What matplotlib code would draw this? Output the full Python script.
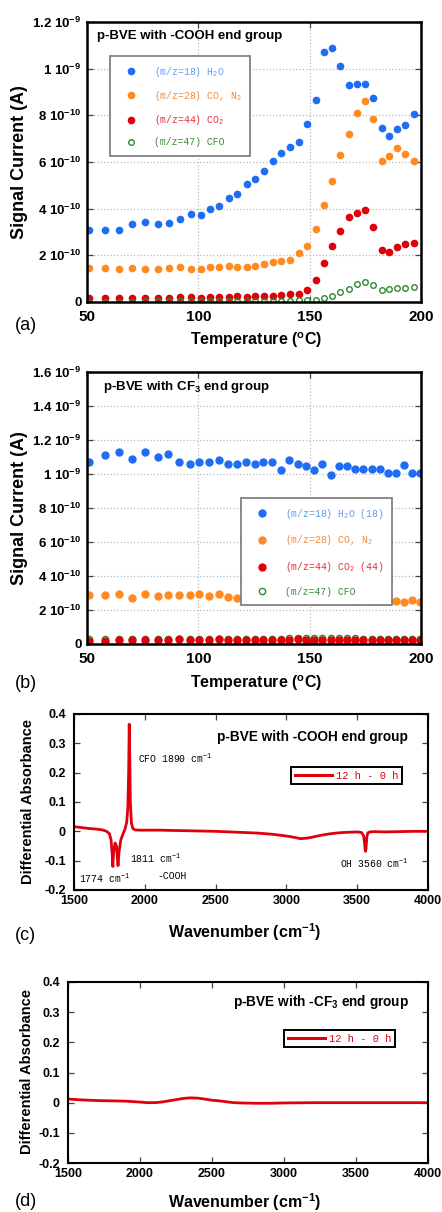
import numpy as np
import matplotlib
matplotlib.use('Agg')
import matplotlib.pyplot as plt
from matplotlib.lines import Line2D

plt.rcParams['font.family'] = ['Liberation Sans', 'DejaVu Sans']
plt.rcParams['mathtext.default'] = 'regular'

MONO = ['Liberation Mono', 'DejaVu Sans Mono']

# ---------------- data (panel a: -COOH end group), currents in 1e-10 A
temp_a = [51, 58.2, 64.5, 70.2, 75.9, 81.9, 86.7, 91.8, 96.6, 101, 105.2, 109.3,
          113.6, 117.5, 121.7, 125.6, 129.6, 133.4, 137.3, 141.2, 145.1, 148.8,
          152.7, 156.3, 159.9, 163.8, 167.5, 171.1, 174.8, 178.6, 182.3, 185.8,
          189.4, 193, 196.9]
h2o_a = [3.1, 3.1, 3.1, 3.36, 3.43, 3.33, 3.4, 3.57, 3.79, 3.74, 4.0, 4.13, 4.47,
         4.64, 5.04, 5.26, 5.6, 6.04, 6.4, 6.64, 6.84, 7.63, 8.67, 10.7, 10.9,
         10.1, 9.31, 9.36, 9.36, 8.74, 7.47, 7.13, 7.41, 7.57, 8.04]
co_a = [1.44, 1.47, 1.43, 1.46, 1.41, 1.41, 1.47, 1.51, 1.43, 1.43, 1.49, 1.5,
        1.54, 1.51, 1.5, 1.54, 1.64, 1.7, 1.77, 1.79, 2.11, 2.39, 3.14, 4.14,
        5.19, 6.28, 7.19, 8.1, 8.6, 7.84, 6.03, 6.27, 6.59, 6.33, 6.03]
co2_a = [0.17, 0.17, 0.17, 0.17, 0.17, 0.17, 0.17, 0.2, 0.2, 0.17, 0.2, 0.21,
         0.21, 0.24, 0.21, 0.24, 0.24, 0.27, 0.29, 0.33, 0.36, 0.5, 0.93, 1.67,
         2.41, 3.06, 3.63, 3.8, 3.93, 3.23, 2.21, 2.14, 2.36, 2.5, 2.53]
cfo_a = [0.02, 0.02, 0.02, 0.02, 0.03, 0.03, 0.03, 0.03, 0.03, 0.03, 0.04, 0.04,
         0.04, 0.04, 0.05, 0.05, 0.05, 0.05, 0.06, 0.06, 0.07, 0.07, 0.1, 0.17,
         0.26, 0.43, 0.56, 0.76, 0.84, 0.73, 0.53, 0.54, 0.59, 0.59, 0.63]

# ---------------- data (panel b: CF3 end group), currents in 1e-10 A
temp_b = [51, 58.2, 64.2, 70.2, 76, 81.9, 86.4, 91.5, 96.3, 100.5, 104.8, 109.1,
          113.3, 117.4, 121.3, 125.3, 129.2, 133, 137, 140.8, 144.6, 148.4, 152,
          155.7, 159.4, 163.2, 166.8, 170.5, 174.1, 177.8, 181.4, 185.2, 188.8,
          192.5, 196, 199.4]
h2o_b = [10.69, 11.12, 11.29, 10.9, 11.29, 11.0, 11.19, 10.69, 10.6, 10.69, 10.69,
         10.85, 10.6, 10.6, 10.69, 10.6, 10.69, 10.69, 10.21, 10.85, 10.6, 10.5,
         10.21, 10.6, 9.92, 10.5, 10.5, 10.31, 10.31, 10.31, 10.31, 10.07, 10.07,
         10.52, 10.07, 10.07]
co_b = [2.9, 2.86, 2.96, 2.73, 2.94, 2.8, 2.9, 2.88, 2.88, 2.94, 2.8, 2.96, 2.75,
        2.73, 2.69, 2.88, 2.65, 2.71, 2.69, 2.75, 2.8, 2.69, 2.55, 2.71, 2.67,
        2.63, 2.57, 2.54, 2.61, 2.52, 2.52, 2.52, 2.52, 2.5, 2.57, 2.46]
co2_b = [0.2, 0.2, 0.22, 0.22, 0.22, 0.24, 0.26, 0.27, 0.26, 0.25, 0.25, 0.27,
         0.26, 0.25, 0.25, 0.26, 0.26, 0.25, 0.25, 0.26, 0.27, 0.26, 0.26, 0.26,
         0.26, 0.26, 0.25, 0.25, 0.25, 0.24, 0.24, 0.23, 0.23, 0.23, 0.23, 0.22]
cfo_b = [0.28, 0.28, 0.3, 0.3, 0.3, 0.3, 0.32, 0.32, 0.32, 0.3, 0.3, 0.32, 0.32,
         0.3, 0.3, 0.32, 0.32, 0.32, 0.32, 0.34, 0.36, 0.34, 0.34, 0.34, 0.38,
         0.36, 0.34, 0.34, 0.32, 0.32, 0.32, 0.3, 0.3, 0.3, 0.3, 0.3]

# ---------------- data (IR difference spectra)
wn_c = [1500, 1550, 1600, 1650, 1700, 1730, 1750, 1762, 1770, 1774, 1780, 1790,
        1800, 1806, 1811, 1818, 1830, 1845, 1860, 1872, 1880, 1886, 1890, 1894,
        1898, 1905, 1915, 1930, 1960, 2000, 2100, 2200, 2300, 2400, 2500, 2600,
        2700, 2800, 2900, 2950, 3000, 3050, 3100, 3150, 3200, 3250, 3300, 3350,
        3400, 3450, 3500, 3530, 3545, 3552, 3558, 3562, 3568, 3575, 3590, 3620,
        3700, 3800, 3900, 4000]
abs_c = [0.016, 0.013, 0.01, 0.008, 0.005, 0.0, -0.008, -0.03, -0.08, -0.12,
         -0.07, -0.04, -0.05, -0.09, -0.117, -0.07, -0.03, -0.01, 0.008, 0.03,
         0.08, 0.2, 0.365, 0.25, 0.1, 0.03, 0.01, 0.005, 0.004, 0.004, 0.004,
         0.003, 0.002, 0.001, 0.0, -0.002, -0.004, -0.006, -0.01, -0.013, -0.016,
         -0.02, -0.025, -0.023, -0.018, -0.013, -0.009, -0.006, -0.004, -0.003,
         -0.002, -0.004, -0.015, -0.04, -0.068, -0.06, -0.02, -0.005, -0.002,
         -0.001, -0.002, -0.001, 0.0, 0.0]
wn_d = [1500, 1600, 1700, 1800, 1900, 2000, 2050, 2100, 2150, 2200, 2250, 2300,
        2350, 2400, 2450, 2500, 2550, 2600, 2650, 2700, 2800, 2900, 3000, 3200,
        3400, 3600, 3800, 4000]
abs_d = [0.012, 0.009, 0.007, 0.006, 0.005, 0.002, 0.0, 0.0, 0.002, 0.006, 0.01,
         0.014, 0.016, 0.015, 0.012, 0.008, 0.006, 0.003, 0.0, -0.001, -0.002,
         -0.002, -0.001, 0.0, 0.0, 0.0, 0.0, 0.0]

temp_ticks = [50, 100, 150, 200]
cur_ticks_a = [0, 2e-10, 4e-10, 6e-10, 8e-10, 1e-9, 1.2e-9]
cur_labels_a = ['0', r'2 10$^{-10}$', r'4 10$^{-10}$', r'6 10$^{-10}$',
                r'8 10$^{-10}$', r'1 10$^{-9}$', r'1.2 10$^{-9}$']
cur_ticks_b = [0, 2e-10, 4e-10, 6e-10, 8e-10, 1e-9, 1.2e-9, 1.4e-9, 1.6e-9]
cur_labels_b = ['0', r'2 10$^{-10}$', r'4 10$^{-10}$', r'6 10$^{-10}$',
                r'8 10$^{-10}$', r'1 10$^{-9}$', r'1.2 10$^{-9}$',
                r'1.4 10$^{-9}$', r'1.6 10$^{-9}$']
wn_ticks = [1500, 2000, 2500, 3000, 3500, 4000]
abs_ticks = [-0.2, -0.1, 0, 0.1, 0.2, 0.3, 0.4]
abs_labels = ['-0.2', '-0.1', '0', '0.1', '0.2', '0.3', '0.4']

BLUE = '#1f6cf5'
ORANGE = '#ff8a1f'
RED = '#e0000c'
GREEN = '#2e8a2e'
TEXT_COLORS = ['#5f9cf0', '#f08a3a', '#e0303a', '#3a8a3a']

W, H = 442, 1212
SCALE = 1e-10


def px_axes(fig, left, top, right, bottom):
    return fig.add_axes([left / W, 1 - bottom / H, (right - left) / W, (bottom - top) / H])


def fig_text(fig, x, y, s, **kw):
    fig.text(x / W, 1 - y / H, s, **kw)


def style_axes(ax, lw=1.6):
    for sp in ax.spines.values():
        sp.set_linewidth(lw)
    ax.tick_params(direction='in', top=True, right=True, length=4, width=0.9,
                   color='#444444')


def ms_panel(ax, temp, h2o, co, co2, cfo, ms, green_first=False):
    t = np.array(temp)
    h1, = ax.plot(t, np.array(h2o) * SCALE, 'o', color=BLUE, ms=ms, mec=BLUE)
    h2, = ax.plot(t, np.array(co) * SCALE, 'o', color=ORANGE, ms=ms, mec=ORANGE)
    if green_first:
        h4, = ax.plot(t, np.array(cfo) * SCALE, 'o', mfc='none', mec=GREEN, ms=ms - 0.5, mew=1)
        h3, = ax.plot(t, np.array(co2) * SCALE, 'o', color=RED, ms=ms, mec=RED)
    else:
        h3, = ax.plot(t, np.array(co2) * SCALE, 'o', color=RED, ms=ms, mec=RED)
        h4, = ax.plot(t, np.array(cfo) * SCALE, 'o', mfc='none', mec=GREEN, ms=ms - 0.5, mew=1)
    ax.set_xlim(50, 200)
    ax.set_xticks(temp_ticks)
    ax.set_xticklabels([str(v) for v in temp_ticks], fontsize=11, fontweight='bold')
    ax.grid(True, ls=':', color='#bbbbbb', lw=0.9)
    style_axes(ax, 1.8)
    ax.tick_params(axis='x', pad=6)
    ax.tick_params(axis='y', pad=4)
    return [h1, h2, h3, h4]


def ms_legend(ax, handles, labels, anchor, spacing):
    leg = ax.legend(handles, labels, loc='upper left', bbox_to_anchor=anchor,
                    borderaxespad=0, fancybox=False, framealpha=1,
                    edgecolor='#777777', prop={'family': MONO, 'size': 7},
                    handlelength=2.6, handletextpad=1.0, borderpad=0.9,
                    labelspacing=spacing)
    leg.get_frame().set_linewidth(1.2)
    for txt, c in zip(leg.get_texts(), TEXT_COLORS):
        txt.set_color(c)


def ir_panel(ax, wn, ab):
    ax.plot(wn, ab, color=RED, lw=2.0)
    ax.set_xlim(1500, 4000)
    ax.set_ylim(-0.2, 0.4)
    ax.set_xticks(wn_ticks)
    ax.set_xticklabels([str(v) for v in wn_ticks], fontsize=9, fontweight='bold')
    ax.set_yticks(abs_ticks)
    ax.set_yticklabels(abs_labels, fontsize=9, fontweight='bold')
    style_axes(ax, 1.5)
    ax.tick_params(axis='y', pad=6)
    h = Line2D([], [], color=RED, lw=2.2)
    return h


def ir_legend(ax, h, anchor):
    leg = ax.legend([h], ['12 h - 0 h'], loc='upper left', bbox_to_anchor=anchor,
                    borderaxespad=0, fancybox=False, framealpha=1, edgecolor='black',
                    prop={'family': MONO, 'size': 7.5}, handlelength=3.6,
                    handletextpad=0.4, borderpad=0.35)
    leg.get_frame().set_linewidth(1.4)
    leg.get_texts()[0].set_color(RED)


def main():
    fig = plt.figure(figsize=(W / 100, H / 100), dpi=100)

    # (a)
    ax = px_axes(fig, 87, 22, 421, 302)
    hs = ms_panel(ax, temp_a, h2o_a, co_a, co2_a, cfo_a, ms=4.5)
    ax.set_ylim(0, 1.2e-9)
    ax.set_yticks(cur_ticks_a)
    ax.set_yticklabels(cur_labels_a, fontsize=9.5, fontweight='bold')
    ax.text(0.03, 0.95, 'p-BVE with -COOH end group', transform=ax.transAxes,
            fontsize=9.5, fontweight='bold', va='center')
    ms_legend(ax, hs, ['(m/z=18) H$_2$O', '(m/z=28) CO, N$_2$', '(m/z=44) CO$_2$',
                       '(m/z=47) CFO'], (0.069, 0.879), 1.05)
    fig_text(fig, 20, 162, 'Signal Current (A)', rotation=90, ha='center', va='center',
             fontsize=13, fontweight='bold')
    fig_text(fig, 256, 340, r'Temperature ($^o$C)', ha='center', va='center',
             fontsize=11.5, fontweight='bold')
    fig_text(fig, 15, 326, '(a)', va='center', fontsize=13)

    # (b)
    ax = px_axes(fig, 87, 372, 421, 644)
    hs = ms_panel(ax, temp_b, h2o_b, co_b, co2_b, cfo_b, ms=5, green_first=True)
    ax.set_ylim(0, 1.6e-9)
    ax.set_yticks(cur_ticks_b)
    ax.set_yticklabels(cur_labels_b, fontsize=9.5, fontweight='bold')
    ax.text(0.048, 0.945, 'p-BVE with CF$_3$ end group', transform=ax.transAxes,
            fontsize=9.5, fontweight='bold', va='center')
    ms_legend(ax, [hs[0], hs[1], hs[2], hs[3]],
              ['(m/z=18) H$_2$O (18)', '(m/z=28) CO, N$_2$', '(m/z=44) CO$_2$ (44)',
               '(m/z=47) CFO'], (0.461, 0.537), 1.3)
    fig_text(fig, 20, 508, 'Signal Current (A)', rotation=90, ha='center', va='center',
             fontsize=13, fontweight='bold')
    fig_text(fig, 256, 683, r'Temperature ($^o$C)', ha='center', va='center',
             fontsize=11.5, fontweight='bold')
    fig_text(fig, 15, 683, '(b)', va='center', fontsize=13)

    # (c)
    ax = px_axes(fig, 74, 714, 428, 890)
    h = ir_panel(ax, wn_c, abs_c)
    ax.text(0.944, 0.869, 'p-BVE with -COOH end group', transform=ax.transAxes,
            fontsize=9.8, fontweight='bold', ha='right', va='center')
    ir_legend(ax, h, (0.613, 0.699))
    mono = dict(transform=ax.transAxes, family=MONO, fontsize=7, va='center')
    ax.text(0.181, 0.75, 'CFO 1890 cm$^{-1}$', **mono)
    ax.text(0.158, 0.182, '1811 cm$^{-1}$', **mono)
    ax.text(0.237, 0.08, '-COOH', **mono)
    ax.text(0.014, 0.068, '1774 cm$^{-1}$', **mono)
    ax.text(0.751, 0.153, 'OH 3560 cm$^{-1}$', **mono)
    fig_text(fig, 28, 802, 'Differential Absorbance', rotation=90, ha='center',
             va='center', fontsize=10.5, fontweight='bold')
    fig_text(fig, 245, 932, 'Wavenumber (cm$^{-1}$)', ha='center', va='center',
             fontsize=11.5, fontweight='bold')
    fig_text(fig, 15, 936, '(c)', va='center', fontsize=13)

    # (d)
    ax = px_axes(fig, 68, 982, 428, 1163)
    h = ir_panel(ax, wn_d, abs_d)
    ax.text(0.947, 0.89, 'p-BVE with -CF$_3$ end group', transform=ax.transAxes,
            fontsize=9.8, fontweight='bold', ha='right', va='center')
    ir_legend(ax, h, (0.6, 0.735))
    fig_text(fig, 27, 1072, 'Differential Absorbance', rotation=90, ha='center',
             va='center', fontsize=10.5, fontweight='bold')
    fig_text(fig, 245, 1202, 'Wavenumber (cm$^{-1}$)', ha='center', va='center',
             fontsize=11.5, fontweight='bold')
    fig_text(fig, 15, 1202, '(d)', va='center', fontsize=13)

    fig.savefig('out.png', dpi=100)


if __name__ == '__main__':
    main()
